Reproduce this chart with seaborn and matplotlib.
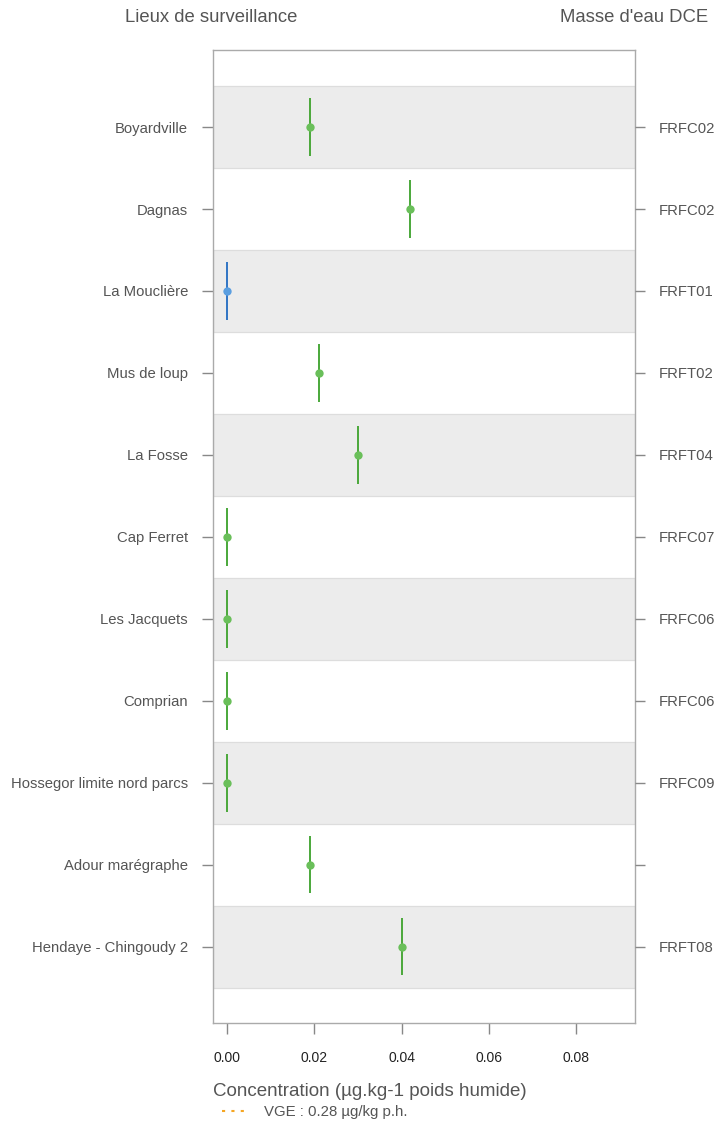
import matplotlib
matplotlib.use("Agg")
import matplotlib.pyplot as plt
from matplotlib.lines import Line2D
import seaborn as sns
import pandas as pd
import numpy as np

lieux = ["Boyardville", "Dagnas", "La Mouclière", "Mus de loup", "La Fosse",
         "Cap Ferret", "Les Jacquets", "Comprian", "Hossegor limite nord parcs",
         "Adour marégraphe", "Hendaye - Chingoudy 2"]
masses = ["FRFC02", "FRFC02", "FRFT01", "FRFT02", "FRFT04", "FRFC07",
          "FRFC06", "FRFC06", "FRFC09", "", "FRFT08"]
concentration = [0.019, 0.042, 0.0, 0.021, 0.030, 0.0, 0.0, 0.0, 0.0, 0.019, 0.040]
classe = ["A", "A", "B", "A", "A", "A", "A", "A", "A", "A", "A"]
xticks = [0.00, 0.02, 0.04, 0.06, 0.08]
vge = 0.28

point_pal = {"A": "#6abf5a", "B": "#5a9ee0"}
line_pal = {"A": "#4aa83a", "B": "#2f74c4"}

df = pd.DataFrame({"lieu": lieux, "masse": masses, "conc": concentration, "classe": classe})

sns.set_theme(style="white")
plt.rcParams["font.family"] = ["Liberation Sans", "DejaVu Sans"]

fig = plt.figure(figsize=(7.16, 11.22), dpi=100)
ax = fig.add_axes([213/716, 1-1023/1122, (635-213)/716, (1023-50)/1122])

n = len(lieux)
idx = np.arange(n)
# alternating bands
for i in idx:
    if i % 2 == 0:
        ax.axhspan(i-0.5, i+0.5, facecolor="#ececec", edgecolor="#dddddd", lw=0.9, zorder=0)

ax.vlines(df["conc"], idx-0.35, idx+0.35, colors=[line_pal[c] for c in classe], lw=1.4, zorder=2)
sns.stripplot(data=df, x="conc", y="lieu", hue="classe", palette=point_pal, jitter=False,
              size=6, linewidth=0, ax=ax, legend=False, zorder=3, order=lieux)

ax.axvline(vge, ls=(0, (1.5, 3)), color="#f5a623", lw=1.5, label="VGE : 0.28 µg/kg p.h.")

ax.set_xlim(-0.0032, 0.0935)
ax.set_ylim(10.93, -0.94)
ax.set_xticks(xticks)
ax.set_xticklabels([f"{t:.2f}" for t in xticks])
ax.set_ylabel("")
ax.set_yticks(idx)
ax.set_yticklabels(lieux)

for s in ax.spines.values():
    s.set_color("#aaaaaa")
    s.set_linewidth(1.0)

ax.tick_params(axis="x", direction="out", length=8, width=1, color="#888888",
               pad=12, labelsize=10, labelcolor="#222222", bottom=True)
ax.tick_params(axis="y", direction="out", length=8, width=1, color="#888888",
               pad=10, labelsize=10.7, labelcolor="#555555", left=True)

ax2 = ax.twinx()
ax2.set_ylim(ax.get_ylim())
ax2.set_yticks(idx)
ax2.set_yticklabels(masses)
ax2.tick_params(axis="y", direction="out", length=7, width=1, color="#888888",
                pad=10, labelsize=10.7, labelcolor="#555555", right=True)
for s in ax2.spines.values():
    s.set_visible(False)

ax.set_xlabel("Concentration (µg.kg-1 poids humide)", loc="left", fontsize=13.5,
              color="#555555", labelpad=13)

fig.text(211/716, 1-18/1122, "Lieux de surveillance", ha="center", va="center",
         fontsize=13.3, color="#555555")
fig.text(634/716, 1-18/1122, "Masse d'eau DCE", ha="center", va="center",
         fontsize=13.3, color="#555555")

handles = [Line2D([0], [0], ls=(0, (1.5, 3)), color="#f5a623", lw=1.5)]
fig.legend(handles, ["VGE : 0.28 µg/kg p.h."], loc="center left",
           bbox_to_anchor=(222/716, 1-1112/1122), frameon=False, fontsize=10.8,
           handlelength=1.8, handletextpad=1.0, labelcolor="#555555",
           borderpad=0, borderaxespad=0)

fig.savefig("out.png", dpi=100)
